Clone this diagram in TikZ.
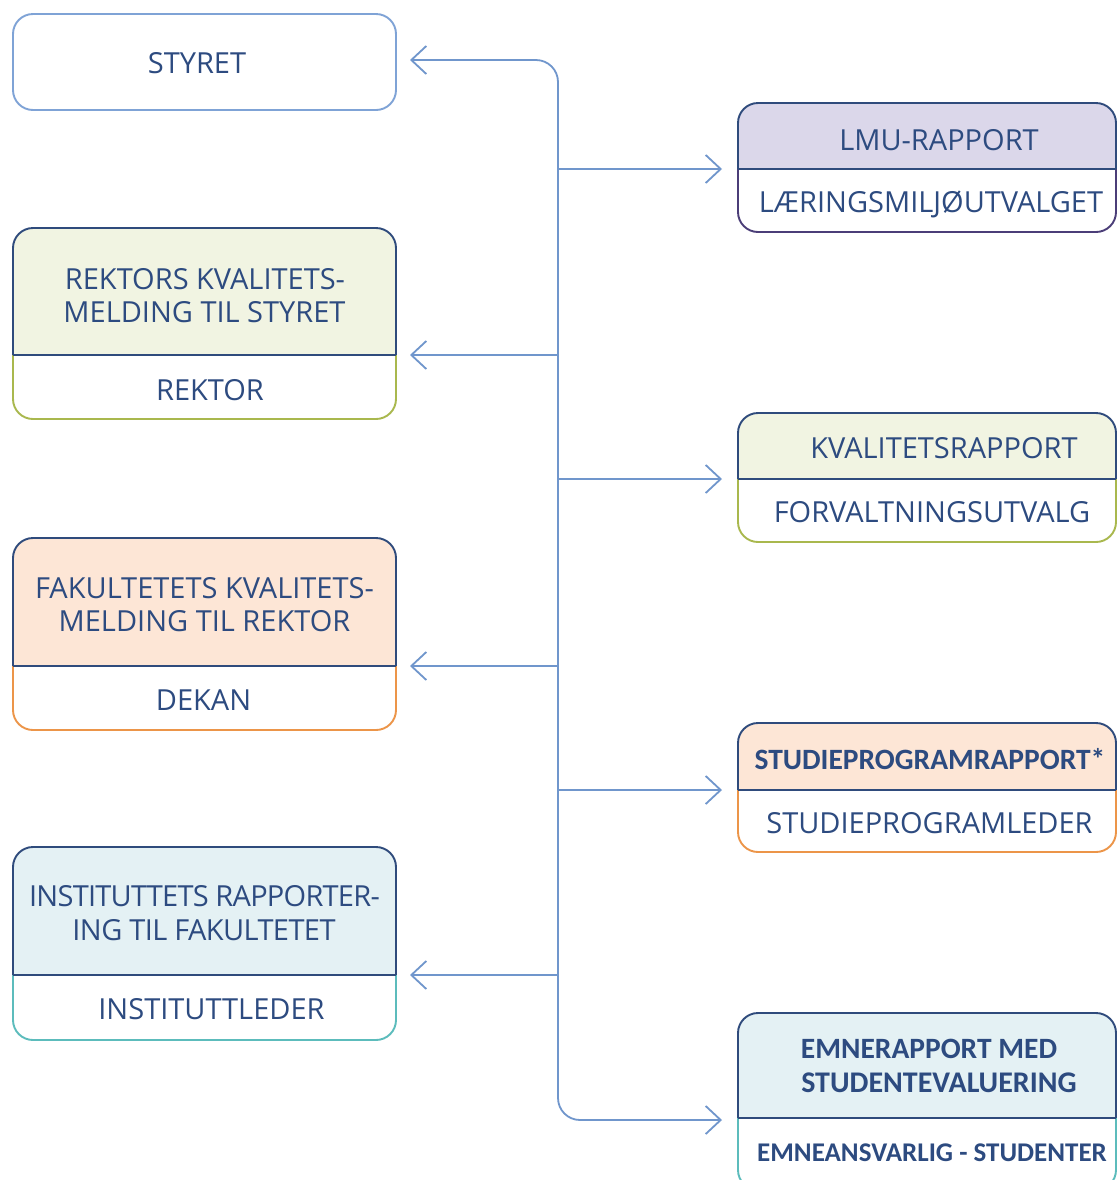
\documentclass[tikz,border=0pt]{standalone}
\usepackage{fontspec}
\setmainfont{Open Sans}
\newfontfamily\calfont{Carlito}
\usetikzlibrary{arrows.meta,fit}
\definecolor{txt}{HTML}{2D4B80}
\definecolor{lnblue}{HTML}{7096CC}
\definecolor{styblue}{HTML}{7FA3D6}
\definecolor{dkblue}{HTML}{2F4B7C}
\definecolor{grnF}{HTML}{F1F4E2}
\definecolor{grnB}{HTML}{A9B84E}
\definecolor{peachF}{HTML}{FDE6D6}
\definecolor{orangeB}{HTML}{EC9549}
\definecolor{cyanF}{HTML}{E4F1F4}
\definecolor{tealB}{HTML}{5CBCBC}
\definecolor{lavF}{HTML}{DBD7EA}
\definecolor{purpB}{HTML}{4B3E78}
\tikzset{
  boxline/.style={line width=1.9bp, rounded corners=20bp},
  part/.style={inner sep=0pt, outer sep=0pt},
  lbl/.style={text=txt, anchor=base, inner sep=0pt, font=\fontsize{29bp}{33bp}\selectfont},
  clbl/.style={text=txt, anchor=base, inner sep=0pt, font=\calfont\bfseries\fontsize{#1}{31bp}\selectfont},
  clbl/.default=27bp,
  tipst/.tip={Straight Barb[length=15bp,width=28bp,line width=1.8bp]},
  conn/.style={draw=lnblue, line width=1.8bp, -tipst},
}
% #1 name, #2 x1, #3 y1, #4 x2, #5 ydiv, #6 y2, #7 fill, #8 border
\newcommand\twobox[8]{%
  \begin{scope}
    \clip (#2-10,#3-10) rectangle (#4+10,#5);
    \draw[boxline, draw=dkblue, fill=#7] (#2,#3) rectangle (#4,#6);
  \end{scope}
  \begin{scope}
    \clip (#2-10,#5) rectangle (#4+10,#6+10);
    \draw[boxline, draw=#8, fill=white] (#2,#3) rectangle (#4,#6);
  \end{scope}
  \draw[line width=1.9bp, draw=dkblue] (#2,#5) -- (#4,#5);
  \node[part, fit={(#2,#3) (#4,#5)}] (#1T) {};
  \node[part, fit={(#2,#5) (#4,#6)}] (#1B) {};
}
\begin{document}
\begin{tikzpicture}[x=1bp,y=-1bp]
\useasboundingbox (0,0) rectangle (1117,1180);
\fill[white] (0,0) rectangle (1117,1180);

% STYRET
\node[part, fit={(13,14) (396,110)}, draw=styblue, line width=1.9bp, rounded corners=20bp] (sty) {};
\node[lbl] (styL) at (197,73) {STYRET};

% left boxes
\twobox{rk}{13}{228}{396}{355}{419}{grnF}{grnB}
\twobox{fk}{13}{538}{396}{666}{730}{peachF}{orangeB}
\twobox{in}{13}{847}{396}{975}{1040}{cyanF}{tealB}
% right boxes
\twobox{lm}{738}{103}{1116}{169}{232}{lavF}{purpB}
\twobox{kv}{738}{413}{1116}{479}{542}{grnF}{grnB}
\twobox{st}{738}{723}{1116}{790}{852}{peachF}{orangeB}
\twobox{em}{738}{1013}{1116}{1118}{1190}{cyanF}{tealB}

% labels
\node[lbl] (rk1) at (205,289) {REKTORS KVALITETS-};
\node[lbl] (rk2) at (204.5,322) {MELDING TIL STYRET};
\node[lbl] (rk3) at (210,400) {REKTOR};
\node[lbl] (fk1) at (204.5,598) {FAKULTETETS KVALITETS-};
\node[lbl] (fk2) at (204.5,631) {MELDING TIL REKTOR};
\node[lbl] (fk3) at (203.5,710) {DEKAN};
\node[lbl] (in1) at (204.5,906) {\addfontfeature{LetterSpace=-2.6}INSTITUTTETS RAPPORTER-};
\node[lbl] (in2) at (204,940) {\addfontfeature{LetterSpace=-2.0}ING TIL FAKULTETET};
\node[lbl] (in3) at (211.5,1019) {INSTITUTTLEDER};
\node[lbl] (lm1) at (939,150) {LMU-RAPPORT};
\node[lbl] (lm2) at (931,212) {LÆRINGSMILJØUTVALGET};
\node[lbl] (kv1) at (944,458) {KVALITETSRAPPORT};
\node[lbl] (kv2) at (932,522) {FORVALTNINGSUTVALG};
\node[clbl=29.5bp] (st1) at (930,769) {STUDIEPROGRAMRAPPORT*};
\node[lbl] (st2) at (929.5,833) {STUDIEPROGRAMLEDER};
\node[clbl=29.5bp] (em1) at (929,1058) {EMNERAPPORT MED};
\node[clbl=30bp] (em2) at (939,1092) {STUDENTEVALUERING};
\node[clbl] (em3) at (932,1161) {EMNEANSVARLIG - STUDENTER};

% connectors
\coordinate (spT) at (558,60);
\coordinate (spB) at (558,1120);
\draw[conn, tipst-tipst, rounded corners=22bp, shorten <=14bp, shorten >=16bp]
  (spT -| sty.east) -- (spT) -- (spB) -- (spB -| emT.west);
\draw[conn, shorten >=14bp] (spT |- rkT.south east) -- (rkT.south east);
\draw[conn, shorten >=14bp] (spT |- fkT.south east) -- (fkT.south east);
\draw[conn, shorten >=14bp] (spT |- inT.south east) -- (inT.south east);
\draw[conn, shorten >=16bp] (spT |- lmT.south west) -- (lmT.south west);
\draw[conn, shorten >=16bp] (spT |- kvT.south west) -- (kvT.south west);
\draw[conn, shorten >=16bp] (spT |- stT.south west) -- (stT.south west);
\end{tikzpicture}
\end{document}
